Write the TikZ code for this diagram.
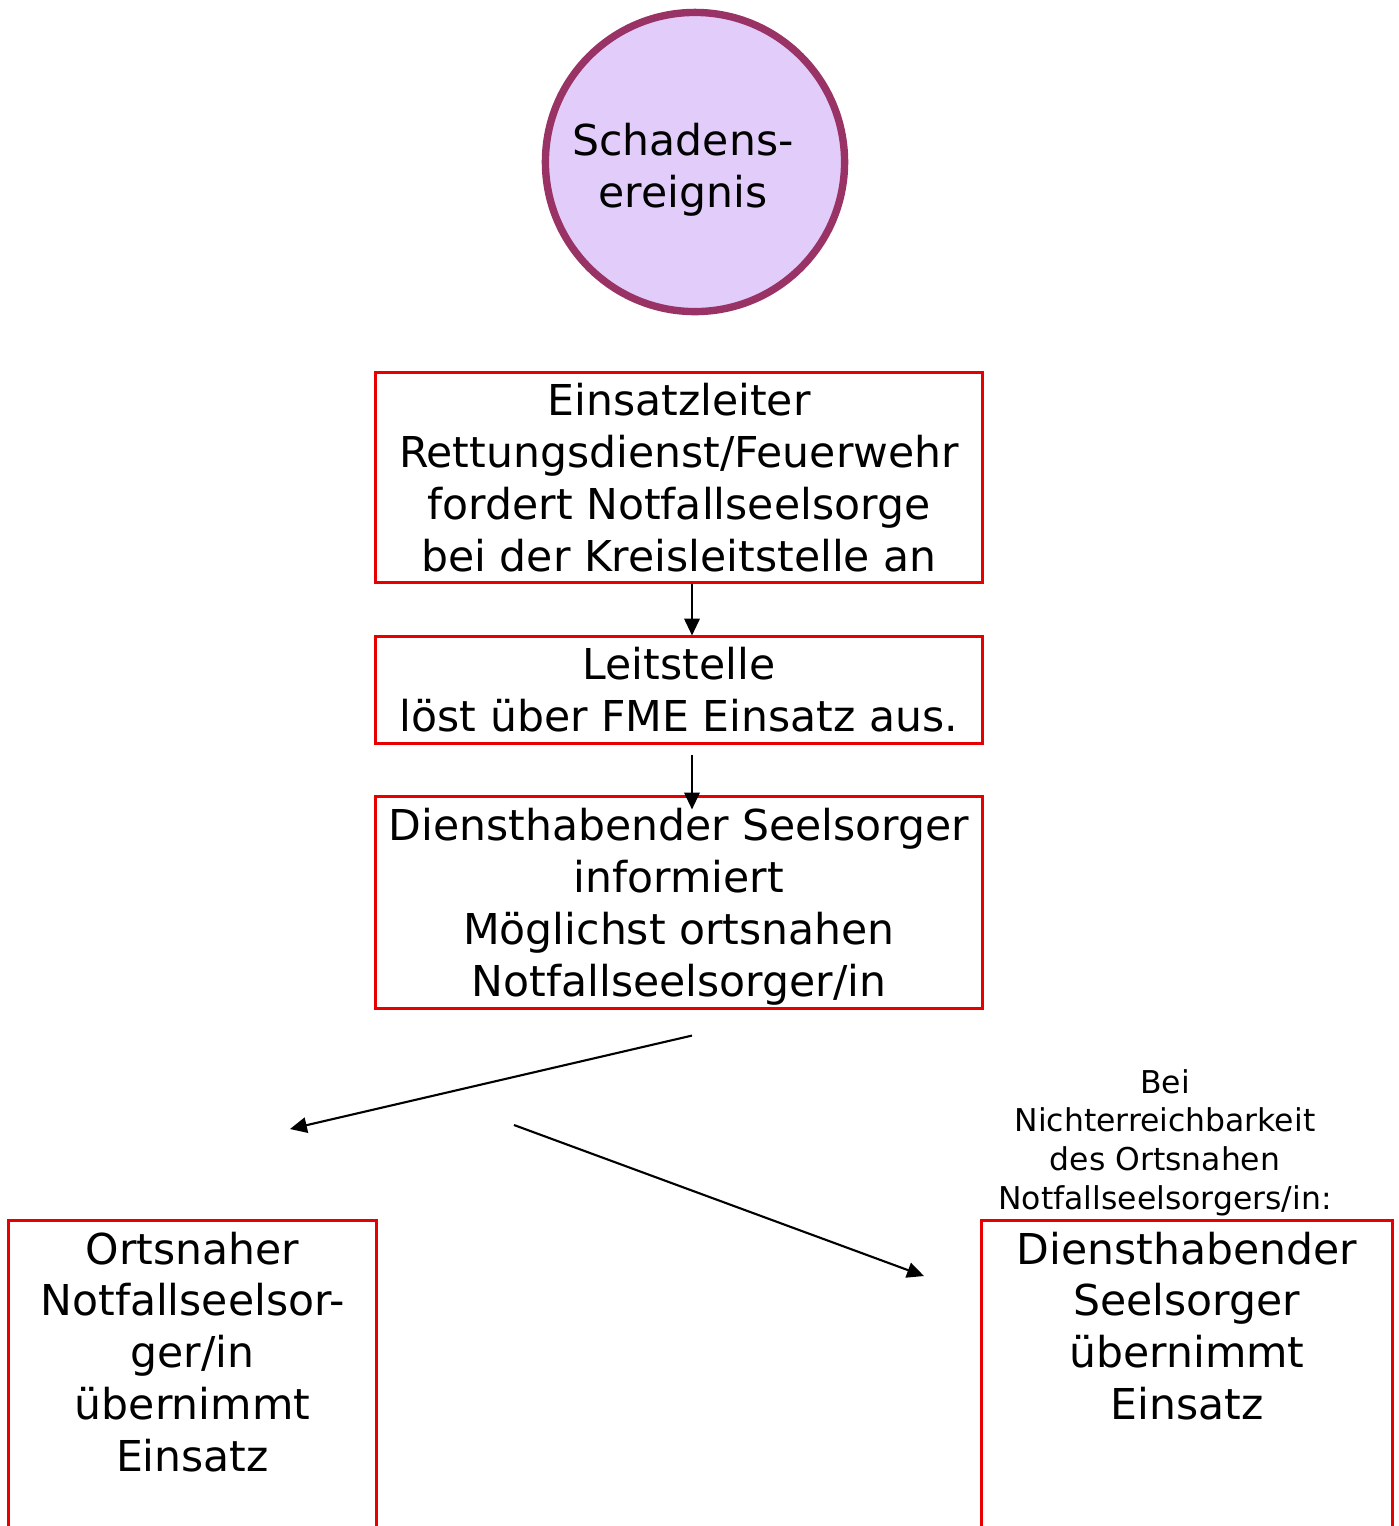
\documentclass[tikz,border=0pt]{standalone}
\usepackage{fontspec}
\setmainfont{DejaVu Sans}
\usetikzlibrary{arrows.meta, positioning}
\definecolor{eventfill}{RGB}{226, 204, 250}
\definecolor{eventline}{RGB}{153, 51, 102}
\definecolor{boxred}{RGB}{230, 0, 0}

\tikzset{
  stepbox/.style={draw=boxred, line width=0.85pt, fill=white, inner sep=0pt},
  bigtext/.style={align=center, inner sep=0pt, font=\fontsize{12.1}{14.75}\selectfont},
  flow/.style={-{Triangle[length=4.8pt, width=4.4pt]}, line width=0.6pt},
}

\begin{document}
\begin{tikzpicture}[x=0.01cm, y=-0.01cm]
  \clip (0,0) rectangle (1399,1526);
  \useasboundingbox (0,0) rectangle (1399,1526);

  % Event
  \node[circle, draw=eventline, line width=2.1pt, fill=eventfill, minimum size=2.99cm] (event) at (695, 162) {};
  \node[bigtext] (eventtext) at (683, 170) {Schadens-\\ereignis};

  % Chain of alerts
  \node[stepbox, bigtext, minimum width=6.06cm, minimum height=2.09cm] (request) at (679, 477.5) {Einsatzleiter\\Rettungsdienst/Feuerwehr\\fordert Notfallseelsorge\\bei der Kreisleitstelle an};
  \node[stepbox, bigtext, minimum width=6.06cm, minimum height=1.06cm] (dispatch) at (679, 690) {Leitstelle\\löst über FME Einsatz aus.};
  \node[stepbox, bigtext, text depth=0pt, minimum width=6.06cm, minimum height=2.11cm] (duty) at (679, 902.5) {Diensthabender Seelsorger\\informiert\\Möglichst ortsnahen\\Notfallseelsorger/in};
  \draw[flow] ([xshift=0.13cm]request.south) -- ([xshift=0.13cm]dispatch.north);
  \draw[flow] ([shift={(13, 10)}]dispatch.south) -- ([shift={(13, 14)}]duty.north);

  % Outcomes
  \node[stepbox, minimum width=3.67cm, minimum height=4cm, anchor=north] (local) at (192.5, 1219) {};
  \node[bigtext, anchor=north] (localtext) at (192.5, 1231) {Ortsnaher\\Notfallseelsor-\\ger/in\\übernimmt\\Einsatz};
  \node[stepbox, minimum width=4.10cm, minimum height=4cm, anchor=north] (self) at (1187, 1219) {};
  \node[bigtext, anchor=north] (selftext) at (1187, 1231) {Diensthabender\\Seelsorger\\übernimmt\\Einsatz};
  \node[align=center, inner sep=0pt, font=\fontsize{8.94}{11.06}\selectfont, anchor=south] (note) at (1165, 1217) {Bei\\Nichterreichbarkeit\\des Ortsnahen\\Notfallseelsorgers/in:};

  \coordinate (leftend) at (290, 1129);
  \coordinate (rightstart) at (514, 1125);
  \coordinate (rightend) at (924, 1276);
  \draw[flow] ([shift={(13, 26)}]duty.south) -- (leftend);
  \draw[flow] (rightstart) -- (rightend);
\end{tikzpicture}
\end{document}
